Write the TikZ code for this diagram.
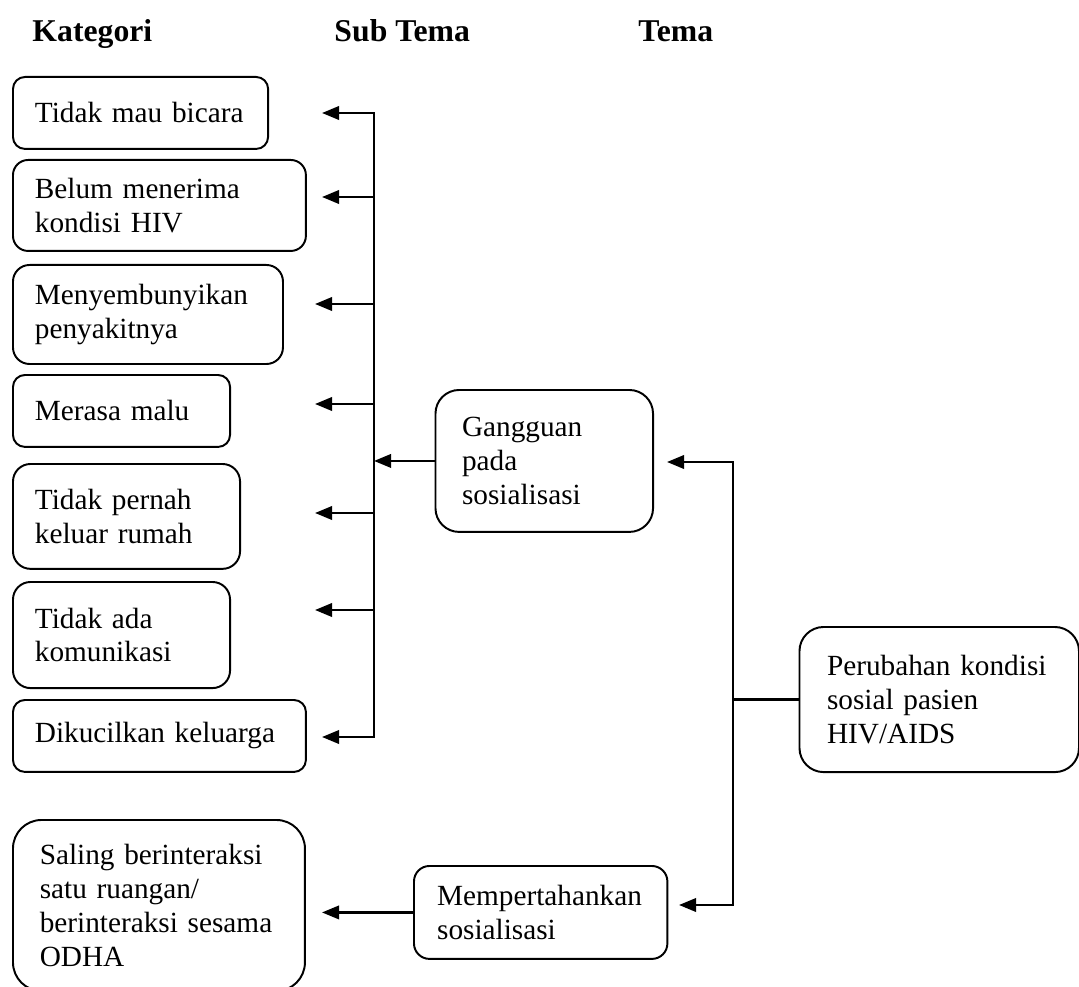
\documentclass[tikz,border=0pt]{standalone}
\usepackage{fontspec}
\setmainfont{Liberation Serif}
\usetikzlibrary{arrows.meta}

\begin{document}
\begin{tikzpicture}[x=0.41pt, y=-0.41pt,
  >={Triangle[length=7pt, width=5.5pt]},
  every node/.style={font=\fontsize{12}{13.9}\selectfont},
  judul/.style={font=\fontsize{13}{15}\selectfont\bfseries, inner sep=0pt, anchor=base west},
  kotak/.style n args={3}{rectangle, draw, line width=0.8pt, rounded corners=#3, align=left, text width=#1, minimum height=#2, inner xsep=9pt, inner ysep=0pt, anchor=north west},
  panah/.style={line width=1pt},
]
\useasboundingbox (0,0) rectangle (1079,987);

% judul kolom
\node[judul] (kategori) at (32,42) {Kategori};
\node[judul] (subtema) at (334,42) {Sub Tema};
\node[judul] (tema) at (638,42) {Tema};

% kategori
\node[kotak={86.6pt}{29.5pt}{4.9pt}] (tidakbicara) at (12,76) {Tidak mau bicara};
\node[kotak={102.1pt}{37.3pt}{6.2pt}] (belumterima) at (12,159) {Belum menerima\\kondisi HIV};
\node[kotak={92.7pt}{40.6pt}{6.8pt}] (sembunyi) at (12,264) {Menyembunyikan\\penyakitnya};
\node[kotak={71pt}{29.5pt}{4.9pt}] (malu) at (12,374) {Merasa malu};
\node[kotak={75.1pt}{43pt}{7.2pt}] (tidakkeluar) at (12,463) {Tidak pernah\\keluar rumah};
\node[kotak={71pt}{43.5pt}{7.2pt}] (tidakkomunikasi) at (12,581) {Tidak ada\\komunikasi};
\node[kotak={102.1pt}{29.5pt}{4.9pt}] (dikucilkan) at (12,699) {Dikucilkan keluarga};
\node[kotak={97.7pt}{70.1pt}{11.7pt}, inner xsep=11pt] (interaksi) at (12,819) {Saling berinteraksi\\satu ruangan/\\berinteraksi sesama\\ODHA};

% sub tema dan tema
\node[kotak={67.4pt}{58.2pt}{9.7pt}, inner xsep=10.9pt] (gangguan) at (434.5,389) {Gangguan\\pada\\sosialisasi};
\node[kotak={84.9pt}{38.1pt}{6.35pt}, inner xsep=9.5pt] (pertahankan) at (413,865) {Mempertahankan\\sosialisasi};
\node[kotak={92pt}{59.5pt}{9.9pt}, inner xsep=11.3pt] (perubahan) at (798.5,626) {Perubahan kondisi\\sosial pasien\\HIV/AIDS};

% ujung panah
\coordinate (atas) at (374,113);
\coordinate (bawah) at (374,737);
\coordinate (k1) at (322,113);
\coordinate (k2) at (322,197);
\coordinate (k3) at (315,304);
\coordinate (k4) at (315,404);
\coordinate (k5) at (315,513);
\coordinate (k6) at (315,610);
\coordinate (k7) at (322,737);
\coordinate (tatas) at (733,462);
\coordinate (tbawah) at (733,905);
\coordinate (tg) at (667,462);
\coordinate (tm) at (679,905);
\coordinate (ks) at (322,915);

\draw[panah, <->] (k1) -- (atas) -- (bawah) -- (k7);
\draw[panah, ->] (k2 -| atas) -- (k2);
\draw[panah, ->] (k3 -| atas) -- (k3);
\draw[panah, ->] (k4 -| atas) -- (k4);
\draw[panah, ->] (k5 -| atas) -- (k5);
\draw[panah, ->] (k6 -| atas) -- (k6);
\draw[panah, ->] (gangguan.west) -- (gangguan.west -| atas);

\draw[panah, <->] (tg) -- (tatas) -- (tbawah) -- (tm);
\draw[panah] (perubahan.west) -- (perubahan.west -| tatas);
\draw[panah, ->] (pertahankan.west) -- (pertahankan.west -| ks);
\end{tikzpicture}
\end{document}
